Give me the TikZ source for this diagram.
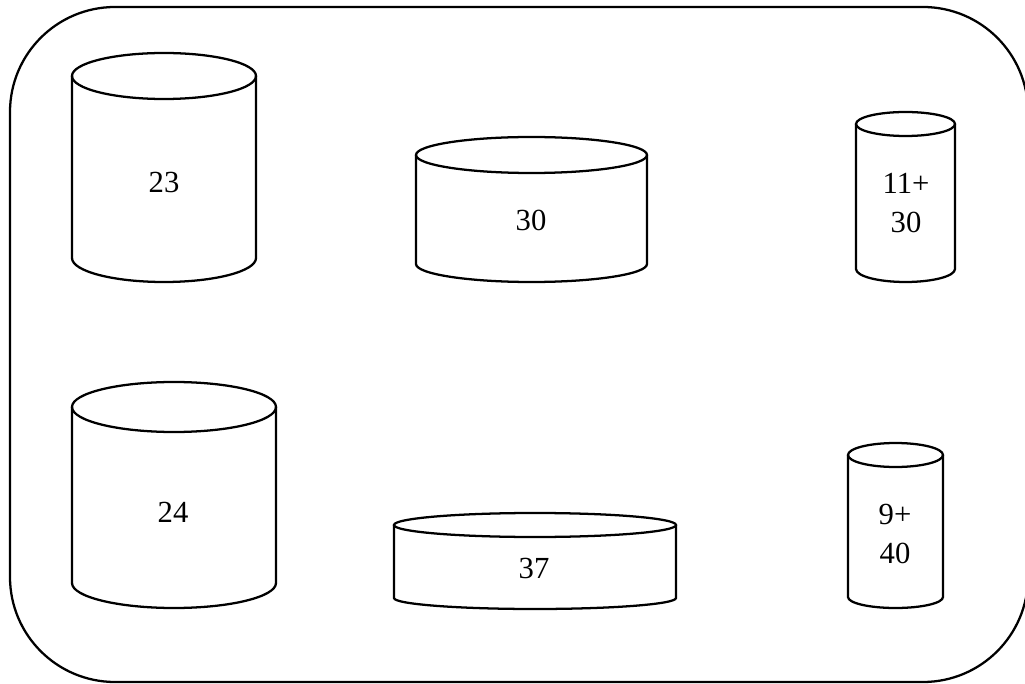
\documentclass[tikz,border=0pt]{standalone}
\usepackage{fontspec}
\setmainfont{Liberation Serif}
\usepackage{tikz}
\tikzset{>=latex}

\begin{document}
\begin{tikzpicture}[x=0.75pt, y=-0.75pt, line width=1.7pt,
  every node/.style={font=\fontsize{23}{29}\selectfont, align=center}]

\useasboundingbox (0,0) rectangle (1025,684);

% Outer frame
\draw[rounded corners=78.75pt] (10,7) rectangle (1028,682);

% Top row
\draw (164,76) ellipse [x radius=92, y radius=23];
\draw (72,76) -- (72,258) arc [start angle=180, end angle=0, x radius=92, y radius=24] -- (256,76);
\node (n23) at (164,182) {23};

\draw (531.5,155) ellipse [x radius=115.5, y radius=18];
\draw (416,155) -- (416,264) arc [start angle=180, end angle=0, x radius=115.5, y radius=18] -- (647,155);
\node (n30) at (531,220) {30};

\draw (905.5,124) ellipse [x radius=49.5, y radius=12];
\draw (856,124) -- (856,269) arc [start angle=180, end angle=0, x radius=49.5, y radius=13] -- (955,124);
\node (n11) at (906,203) {11+\\30};

% Bottom row
\draw (174,407) ellipse [x radius=102, y radius=25];
\draw (72,407) -- (72,583) arc [start angle=180, end angle=0, x radius=102, y radius=25] -- (276,407);
\node (n24) at (173,512) {24};

\draw (535,525) ellipse [x radius=141, y radius=12];
\draw (394,525) -- (394,598) arc [start angle=180, end angle=0, x radius=141, y radius=11] -- (676,525);
\node (n37) at (534,568) {37};

\draw (895.5,455) ellipse [x radius=47.5, y radius=12];
\draw (848,455) -- (848,597) arc [start angle=180, end angle=0, x radius=47.5, y radius=11] -- (943,455);
\node (n9) at (895,534) {9+\\40};

\end{tikzpicture}
\end{document}
